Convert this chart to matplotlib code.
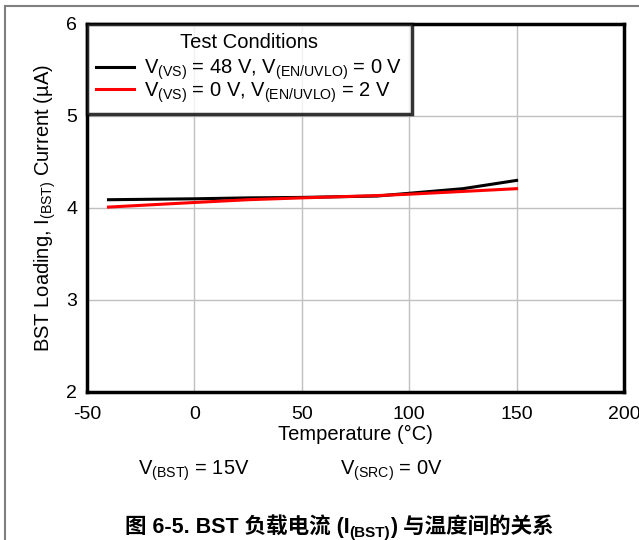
import matplotlib
matplotlib.use("Agg")
import matplotlib.pyplot as plt
from matplotlib.lines import Line2D

# data
temperature = [-40, 0, 25, 50, 85, 100, 125, 150]
current_vs48 = [4.09, 4.10, 4.11, 4.115, 4.13, 4.16, 4.21, 4.30]
current_vs0 = [4.01, 4.06, 4.09, 4.11, 4.135, 4.15, 4.18, 4.21]

x_ticks = [-50, 0, 50, 100, 150, 200]
y_ticks = [2, 3, 4, 5, 6]

label_vs48 = r"V$_{\mathrm{(VS)}}$ = 48 V, V$_{\mathrm{(EN/UVLO)}}$ = 0 V"
label_vs0 = r"V$_{\mathrm{(VS)}}$ = 0 V, V$_{\mathrm{(EN/UVLO)}}$ = 2 V"

plt.rcParams["font.family"] = ["Liberation Sans", "Noto Sans CJK SC"]
plt.rcParams["mathtext.fontset"] = "custom"
plt.rcParams["mathtext.rm"] = "Liberation Sans"
plt.rcParams["mathtext.it"] = "Liberation Sans:italic"
plt.rcParams["mathtext.bf"] = "Liberation Sans:bold"
plt.rcParams["axes.unicode_minus"] = False

FS = 14.5

W, H = 639, 540
fig = plt.figure(figsize=(W / 100, H / 100), dpi=100)
ax = fig.add_axes([87 / W, (H - 392) / H, 537 / W, 368 / H])

ax.plot(temperature, current_vs48, color="black", linewidth=2.2, label=label_vs48)
ax.plot(temperature, current_vs0, color="#ff0000", linewidth=2.2, label=label_vs0)

ax.set_xlim(-50, 200)
ax.set_ylim(2, 6)
ax.set_xticks(x_ticks)
ax.set_yticks(y_ticks)
ax.tick_params(axis="x", length=0, pad=10, labelsize=14)
ax.tick_params(axis="y", length=0, pad=7, labelsize=14)
ax.grid(True, color="#c0c0c0", linewidth=1)
ax.set_axisbelow(True)
for spine in ax.spines.values():
    spine.set_linewidth(2.5)
    spine.set_color("black")

ax.set_xlabel("Temperature (°C)", fontsize=FS)
ax.xaxis.set_label_coords(0.5, -(425 - 392) / 368)
ax.set_ylabel(r"BST Loading, I$_{\mathrm{(BST)}}$ Current (µA)", fontsize=FS)
ax.yaxis.set_label_coords(-(87 - 58) / 537, 0.5)

legend = ax.legend(
    loc="upper left",
    bbox_to_anchor=(0, 1),
    borderaxespad=0,
    title="Test Conditions",
    fontsize=FS,
    title_fontsize=FS,
    fancybox=False,
    handlelength=1.9,
    handletextpad=0.5,
    labelspacing=-0.1,
    borderpad=0.45,
)
legend.get_frame().set_edgecolor("black")
legend.get_frame().set_linewidth(2.5)
# a bit more room between the title and the rows
legend._legend_box.sep = 4

fig.text(138 / W, 1 - 475 / H, r"V$_{\mathrm{(BST)}}$ = 15V", fontsize=FS, va="baseline")
fig.text(340 / W, 1 - 475 / H, r"V$_{\mathrm{(SRC)}}$ = 0V", fontsize=FS, va="baseline")

# caption, drawn piece by piece for the subscript
renderer = fig.canvas.get_renderer()
caption_parts = [
    ("图 6-5. BST 负载电流 (I", 15.5, 0),
    ("(BST)", 11, 4),
    (") 与温度间的关系", 15.5, 0),
]
x_px = 125
for text, size, dy in caption_parts:
    t = fig.text(x_px / W, (H - 533 - dy) / H, text, fontsize=size,
                 fontweight="bold", va="baseline")
    x_px += t.get_window_extent(renderer).width

# frame lines of the figure
fig.add_artist(Line2D([5 / W, 1], [1 - 6 / H, 1 - 6 / H], color="#808080", linewidth=1.5))
fig.add_artist(Line2D([5 / W, 5 / W], [0, 1 - 6 / H], color="#808080", linewidth=1.5))

fig.savefig("out.png", dpi=100)
